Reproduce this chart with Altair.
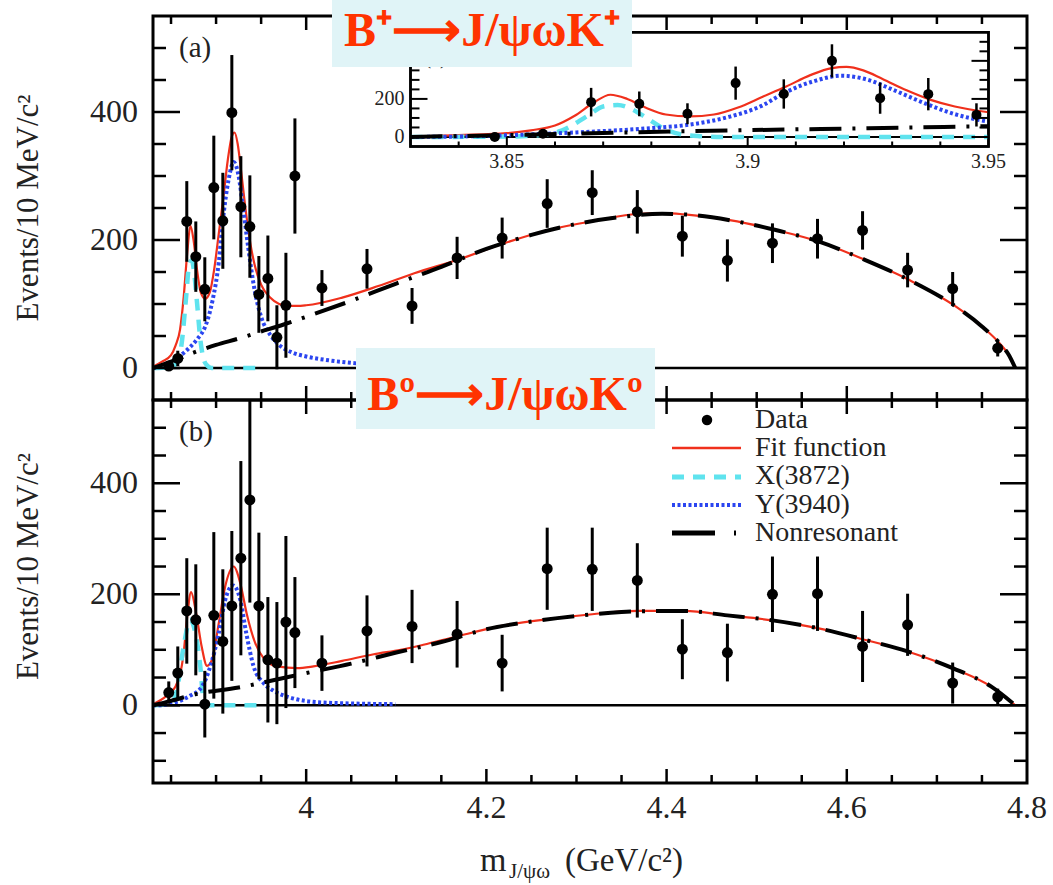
import altair as alt
import pandas as pd

# ------------------------------------------------------------------ data
BIN_M = [3.8475, 3.8575, 3.8675, 3.8775, 3.8875, 3.8975, 3.9075, 3.9175, 3.9275, 3.9375,
         3.9475, 3.9575, 3.9675, 3.9775, 3.9875,
         4.0175, 4.0675, 4.1175, 4.1675, 4.2175, 4.2675, 4.3175, 4.3675, 4.4175, 4.4675,
         4.5175, 4.5675, 4.6175, 4.6675, 4.7175, 4.7675]
A_COUNTS = [3, 15, 229, 174, 123, 282, 230, 399, 252, 221, 115, 140, 48, 98, 300,
            125, 155, 97, 172, 203, 257, 274, 244, 206, 168, 195, 202, 215, 153, 124, 31]
A_ERRORS = [6, 12, 63, 55, 50, 81, 75, 90, 79, 80, 60, 67, 50, 82, 90,
            28, 31, 28, 33, 32, 38, 35, 34, 32, 33, 31, 31, 30, 27, 26, 13]
B_COUNTS = [23, 58, 170, 154, 2, 162, 115, 179, 265, 370, 179, 82, 76, 150, 131,
            76, 134, 142, 128, 76, 246, 245, 225, 101, 95, 200, 201, 106, 145, 40, 15]
B_ERRORS = [20, 48, 95, 100, 60, 150, 130, 135, 175, 185, 132, 113, 110, 155, 100,
            50, 64, 66, 60, 51, 74, 75, 67, 54, 52, 68, 67, 64, 56, 37, 15]
INSET_M = [3.8475, 3.8575, 3.8675, 3.8775, 3.8875, 3.8975, 3.9075, 3.9175, 3.9275, 3.9375, 3.9475]
INSET_COUNTS = [0, 17, 183, 174, 122, 283, 226, 400, 204, 225, 116]
INSET_ERRORS = [8, 12, 75, 65, 55, 87, 77, 87, 82, 85, 61]

# fit curves
FIT_A_M = [3.83, 3.84, 3.85, 3.855, 3.86, 3.864, 3.868, 3.8715, 3.875, 3.879, 3.883, 3.888,
           3.893, 3.898, 3.903, 3.908, 3.913, 3.9175, 3.9205, 3.924, 3.928, 3.933, 3.938,
           3.943, 3.95, 3.96, 3.97, 3.98, 3.99, 4.0, 4.04, 4.08, 4.12, 4.17, 4.22, 4.27,
           4.32, 4.37, 4.395, 4.42, 4.47, 4.52, 4.57, 4.62, 4.67, 4.72, 4.75, 4.77, 4.78, 4.787]
FIT_A_V = [2, 10, 20, 35, 60, 110, 180, 222, 200, 152, 118, 108, 118, 155, 210, 265, 325, 362,
           368, 350, 305, 245, 195, 160, 130, 110, 100, 97, 97, 98, 110, 128, 148, 170, 195,
           216, 230, 241, 242, 240, 231, 216, 197, 169, 137, 97, 65, 38, 20, 0]
X_A_M = [3.83, 3.85, 3.856, 3.8615, 3.8667, 3.87, 3.873, 3.876, 3.879, 3.8825, 3.886, 3.89, 3.895, 3.95]
X_A_V = [0, 2, 8, 35, 110, 160, 168, 145, 100, 45, 15, 4, 0, 0]
Y_A_M = [3.83, 3.845, 3.856, 3.866, 3.879, 3.888, 3.896, 3.903, 3.9075, 3.914, 3.9195, 3.925,
         3.93, 3.936, 3.943, 3.95, 3.96, 3.97, 3.985, 4.0, 4.025, 4.05, 4.075, 4.1]
Y_A_V = [0, 5, 15, 26, 45, 65, 105, 165, 230, 295, 322, 300, 250, 185, 120, 80, 52, 36, 24,
         18, 12, 8, 5, 3]
NR_A_M = [3.83, 3.85, 3.875, 3.9, 3.925, 3.95, 3.975, 4.0, 4.05, 4.1, 4.15, 4.2, 4.25, 4.3,
          4.35, 4.395, 4.42, 4.47, 4.52, 4.57, 4.62, 4.67, 4.72, 4.75, 4.77, 4.78, 4.787]
NR_A_V = [0, 10, 24, 36, 46, 57, 68, 80, 105, 132, 158, 186, 208, 225, 236, 241, 240, 231,
          216, 197, 169, 137, 97, 65, 38, 20, 0]

# fit curves
FIT_B_M = [3.83, 3.845, 3.855, 3.864, 3.868, 3.8722, 3.878, 3.884, 3.89, 3.8955, 3.903, 3.91,
           3.9195, 3.927, 3.934, 3.9435, 3.9527, 3.9676, 3.99, 4.008, 4.04, 4.075, 4.105, 4.13,
           4.167, 4.217, 4.2675, 4.3175, 4.3675, 4.42, 4.4675, 4.5175, 4.5675, 4.6175, 4.6675,
           4.7175, 4.76, 4.787]
FIT_B_V = [2, 17, 34, 94, 160, 204, 165, 106, 71, 82, 148, 213, 250, 219, 165, 112, 85, 70,
           67, 70, 80, 92, 100, 109, 124, 143, 155, 164, 170, 170, 162, 153, 139, 119, 97, 67,
           34, 0]
X_B_M = [3.83, 3.85, 3.8566, 3.864, 3.8714, 3.877, 3.8825, 3.886, 3.89, 3.95]
X_B_V = [0, 3, 28, 106, 154, 130, 70, 11, 0, 0]
Y_B_M = [3.83, 3.835, 3.871, 3.8844, 3.8936, 3.903, 3.91, 3.9188, 3.927, 3.9335, 3.9417,
         3.9527, 3.964, 3.982, 4.019, 4.099]
Y_B_V = [0, 0, 17, 34, 70, 130, 189, 216, 189, 130, 70, 40, 26, 14, 5, 2]
NR_B_M = [3.83, 3.85, 3.877, 3.925, 3.966, 4.0, 4.05, 4.1, 4.15, 4.2, 4.25, 4.3, 4.35, 4.4,
          4.42, 4.4675, 4.5175, 4.5675, 4.6175, 4.6675, 4.7175, 4.76, 4.787]
NR_B_V = [0, 8, 20, 32, 46, 58, 75, 95, 114, 137, 151, 161, 168, 170, 170, 162, 153, 139,
          119, 97, 67, 34, 0]

# ticks / labels
X_MAJOR = [4.0, 4.2, 4.4, 4.6]
X_MINOR = [3.85, 3.9, 3.95, 4.05, 4.1, 4.15, 4.25, 4.3, 4.35, 4.45, 4.5, 4.55, 4.65, 4.7, 4.75]
X_LABEL_V = [4.0, 4.2, 4.4, 4.6, 4.8]
X_LABELS = ["4", "4.2", "4.4", "4.6", "4.8"]
Y_MAJOR = [0, 200, 400]
Y_LABELS = ["0", "200", "400"]
YA_MINOR = [50, 100, 150, 250, 300, 350, 450, 500]
YB_MINOR = [-100, -50, 50, 100, 150, 250, 300, 350, 450, 500]
XI_MAJOR = [3.85, 3.9]
XI_MINOR = [3.84, 3.86, 3.87, 3.88, 3.89, 3.91, 3.92, 3.93, 3.94]
XI_LABEL_V = [3.85, 3.9, 3.95]
XI_LABELS = ["3.85", "3.9", "3.95"]

# ------------------------------------------------------------------ style
FONT = "Liberation Serif"
TXT = "#222222"
RED = "#f0301c"
CYAN = "#5fe3ee"
BLUE = "#2b45f0"
TITLE_RED = "#ff3300"
BOX = "#e0f4f7"
W, H = 874, 767

XA = alt.Scale(domain=[3.83, 4.8], range=[0, W], nice=False, zero=False)
YA = alt.Scale(domain=[-50, 550], range=[384, 0], nice=False, zero=False, clamp=True)
YB = alt.Scale(domain=[-140, 550], range=[H, 384], nice=False, zero=False, clamp=True)
XI = alt.Scale(domain=[3.83, 3.95], range=[257.5, 835.5], nice=False, zero=False)
YI = alt.Scale(domain=[-50, 550], range=[130.5, 16.3], nice=False, zero=False, clamp=True)


def xf(f, s):
    return alt.X(f, type="quantitative", scale=s, axis=None)


def yf(f, s):
    return alt.Y(f, type="quantitative", scale=s, axis=None)


def xd(v, s):
    return alt.XDatum(v, type="quantitative", scale=s, axis=None)


def yd(v, s):
    return alt.YDatum(v, type="quantitative", scale=s, axis=None)


def curve(m, v, sx, sy, color, width, dash=None, maxm=None):
    df = pd.DataFrame({"m": m, "v": v})
    if maxm is not None:
        df = df[df.m <= maxm + 1e-9]
    kw = dict(color=color, strokeWidth=width, interpolate="monotone")
    if dash:
        kw["strokeDash"] = dash
    return alt.Chart(df).mark_line(**kw).encode(x=xf("m", sx), y=yf("v", sy))


def data_marks(m, c, e, sx, sy, size, bw):
    df = pd.DataFrame({"m": m, "c": c, "e": e})
    df["lo"] = df.c - df.e
    df["hi"] = df.c + df.e
    bars = alt.Chart(df).mark_rule(color="black", strokeWidth=bw).encode(
        x=xf("m", sx), y=yf("lo", sy), y2="hi")
    pts = alt.Chart(df).mark_circle(color="black", opacity=1, size=size).encode(
        x=xf("m", sx), y=yf("c", sy))
    return [bars, pts]


def yticks(vals, sx, sy, xl, xr, length, w=2.5):
    df = pd.DataFrame({"t": vals})
    left = alt.Chart(df).mark_rule(color="black", strokeWidth=w, x2Offset=length).encode(
        x=xd(xl, sx), x2=alt.X2Datum(xl), y=yf("t", sy))
    right = alt.Chart(df).mark_rule(color="black", strokeWidth=w, x2Offset=-length).encode(
        x=xd(xr, sx), x2=alt.X2Datum(xr), y=yf("t", sy))
    return [left, right]


def xticks(vals, sx, sy, yv, length, w=2.5):
    df = pd.DataFrame({"t": vals})
    return alt.Chart(df).mark_rule(color="black", strokeWidth=w, y2Offset=length).encode(
        x=xf("t", sx), y=yd(yv, sy), y2=alt.Y2Datum(yv))


def frame(sx, sy, x0, x1, y0, y1, w=3, fill=None):
    df = pd.DataFrame({"a": [0]})
    kw = dict(stroke="black", strokeWidth=w)
    if fill:
        kw["fill"] = fill
    else:
        kw["fillOpacity"] = 0
    return alt.Chart(df).mark_rect(**kw).encode(
        x=xd(x0, sx), x2=alt.X2Datum(x1), y=yd(y0, sy), y2=alt.Y2Datum(y1))


def hline(sx, sy, x0, x1, yv, w=2.5):
    df = pd.DataFrame({"a": [0]})
    return alt.Chart(df).mark_rule(color="black", strokeWidth=w).encode(
        x=xd(x0, sx), x2=alt.X2Datum(x1), y=yd(yv, sy))


def ylabels(vals, labels, sx, sy, xat, dx, size):
    df = pd.DataFrame({"t": vals, "lab": labels})
    return alt.Chart(df).mark_text(align="right", baseline="middle", dx=dx, font=FONT,
                                   fontSize=size, color=TXT).encode(
        x=xd(xat, sx), y=yf("t", sy), text="lab:N")


def xlabels(vals, labels, sx, sy, yat, dy, size):
    df = pd.DataFrame({"t": vals, "lab": labels})
    return alt.Chart(df).mark_text(align="center", baseline="middle", dy=dy, font=FONT,
                                   fontSize=size, color=TXT).encode(
        x=xf("t", sx), y=yd(yat, sy), text="lab:N")


def ptext(txt, sx, sy, xv, yv, dx, dy, size):
    df = pd.DataFrame({"a": [0]})
    return alt.Chart(df).mark_text(text=txt, align="left", baseline="middle", dx=dx, dy=dy,
                                   font=FONT, fontSize=size, color=TXT).encode(
        x=xd(xv, sx), y=yd(yv, sy))


def ytitle(sy, yv):
    df = pd.DataFrame({"a": [0]})
    return alt.Chart(df).mark_text(text="Events/10 MeV/c²", angle=270, align="center",
                                   baseline="middle", font=FONT, fontSize=31, color=TXT).encode(
        x=alt.value(-124), y=yd(yv, sy))


NR_DASH = [32, 11, 3, 11]
X_DASH = [12, 9]
Y_DASH = [3, 2.5]

# ------------------------------------------------------------------ panel (a)
a_layers = [
    hline(XA, YA, 3.83, 4.8, 0),
    curve(FIT_A_M, FIT_A_V, XA, YA, RED, 2.2),
    curve(X_A_M, X_A_V, XA, YA, CYAN, 4.5, X_DASH),
    curve(Y_A_M, Y_A_V, XA, YA, BLUE, 4, Y_DASH),
    curve(NR_A_M, NR_A_V, XA, YA, "black", 4, NR_DASH),
    *data_marks(BIN_M, A_COUNTS, A_ERRORS, XA, YA, 120, 3),
    *yticks(Y_MAJOR, XA, YA, 3.83, 4.8, 27),
    *yticks(YA_MINOR, XA, YA, 3.83, 4.8, 13),
    xticks(X_MAJOR, XA, YA, 550, 14), xticks(X_MINOR, XA, YA, 550, 8),
    xticks(X_MAJOR, XA, YA, -50, -14), xticks(X_MINOR, XA, YA, -50, -8),
    frame(XA, YA, 3.83, 4.8, -50, 550),
    ylabels(Y_MAJOR, Y_LABELS, XA, YA, 3.83, -15, 32),
    ytitle(YA, 250),
    ptext("(a)", XA, YA, 3.83, 550, 26, 32, 29),
]
panel_a = alt.layer(*a_layers)

# ------------------------------------------------------------------ panel (b)
b_layers = [
    hline(XA, YB, 3.83, 4.8, 0),
    curve(FIT_B_M, FIT_B_V, XA, YB, RED, 2.2),
    curve(X_B_M, X_B_V, XA, YB, CYAN, 4.5, X_DASH),
    curve(Y_B_M, Y_B_V, XA, YB, BLUE, 4, Y_DASH),
    curve(NR_B_M, NR_B_V, XA, YB, "black", 4, NR_DASH),
    *data_marks(BIN_M, B_COUNTS, B_ERRORS, XA, YB, 120, 3),
    *yticks(Y_MAJOR, XA, YB, 3.83, 4.8, 27),
    *yticks(YB_MINOR, XA, YB, 3.83, 4.8, 13),
    xticks(X_MAJOR, XA, YB, 550, 14), xticks(X_MINOR, XA, YB, 550, 8),
    xticks(X_MAJOR, XA, YB, -140, -14), xticks(X_MINOR, XA, YB, -140, -8),
    frame(XA, YB, 3.83, 4.8, -140, 550),
    ylabels(Y_MAJOR, Y_LABELS, XA, YB, 3.83, -15, 32),
    xlabels(X_LABEL_V, X_LABELS, XA, YB, -140, 25, 32),
    ytitle(YB, 250),
    ptext("(b)", XA, YB, 3.83, 550, 26, 32, 29),
]
panel_b = alt.layer(*b_layers)

# ------------------------------------------------------------------ inset
i_layers = [
    frame(XI, YI, 3.83, 3.95, -50, 550, w=2.5, fill="white"),
    hline(XI, YI, 3.83, 3.95, 0, w=2),
    curve(FIT_A_M, FIT_A_V, XI, YI, RED, 2.2, maxm=3.95),
    curve(X_A_M, X_A_V, XI, YI, CYAN, 4.5, X_DASH, maxm=3.95),
    curve(Y_A_M, Y_A_V, XI, YI, BLUE, 4, Y_DASH, maxm=3.95),
    curve(NR_A_M, NR_A_V, XI, YI, "black", 4, NR_DASH, maxm=3.95),
    *data_marks(INSET_M, INSET_COUNTS, INSET_ERRORS, XI, YI, 100, 2.5),
    *yticks(Y_MAJOR, XI, YI, 3.83, 3.95, 17, w=2),
    *yticks(YA_MINOR, XI, YI, 3.83, 3.95, 9, w=2),
    xticks(XI_MAJOR, XI, YI, -50, -10, w=2), xticks(XI_MINOR, XI, YI, -50, -5, w=2),
    frame(XI, YI, 3.83, 3.95, -50, 550, w=2.5),
    ylabels(Y_MAJOR, Y_LABELS, XI, YI, 3.83, -6, 20),
    xlabels(XI_LABEL_V, XI_LABELS, XI, YI, -50, 15, 20),
    ptext("(c)", XI, YI, 3.83, 550, 14, 26, 20),
]
inset = alt.layer(*i_layers)

# ------------------------------------------------------------------ annotations
one = pd.DataFrame({"a": [0]})


def vtext(txt, x, y, size, align="left", color=TXT, weight="normal", baseline="alphabetic",
          font=FONT):
    return alt.Chart(one).mark_text(text=txt, align=align, baseline=baseline, font=font,
                                    fontSize=size, color=color, fontWeight=weight).encode(
        x=alt.value(x), y=alt.value(y))


def vbox(x0, x1, y0, y1):
    return alt.Chart(one).mark_rect(fill=BOX).encode(
        x=alt.value(x0), x2=alt.value(x1), y=alt.value(y0), y2=alt.value(y1))


def vrule(x0, x1, y, color, width, dash=None):
    kw = dict(color=color, strokeWidth=width)
    if dash:
        kw["strokeDash"] = dash
    return alt.Chart(one).mark_rule(**kw).encode(
        x=alt.value(x0), x2=alt.value(x1), y=alt.value(y))


LEG_X = 602
ann_layers = [
    vbox(179, 479, -16, 51),
    vtext("B⁺⟶J/ψωK⁺", 329, 16, 48, align="center", color=TITLE_RED, weight="bold",
          baseline="middle"),
    vbox(203, 502, 332, 413),
    vtext("Bº⟶J/ψωKº", 352, 380, 48, align="center", color=TITLE_RED, weight="bold",
          baseline="middle"),
    # legend
    alt.Chart(one).mark_circle(color="black", opacity=1, size=110).encode(
        x=alt.value(554), y=alt.value(404)),
    vrule(519, 588, 432, RED, 2.5),
    vrule(519, 588, 461, CYAN, 5, X_DASH),
    vrule(519, 588, 489, BLUE, 4, Y_DASH),
    vrule(519, 562, 517, "black", 5),
    vrule(581, 583, 517, "black", 5),
    vtext("Data", LEG_X, 404, 28, baseline="middle"),
    vtext("Fit function", LEG_X, 432, 28, baseline="middle"),
    vtext("X(3872)", LEG_X, 460, 28, baseline="middle"),
    vtext("Y(3940)", LEG_X, 489, 28, baseline="middle"),
    vtext("Nonresonant", LEG_X, 517, 28, baseline="middle"),
    # x-axis title
    vtext("m", 327, 855, 34),
    vtext("J/ψω", 356, 862, 21),
    vtext("(GeV/c²)", 412, 855, 33),
]
annot = alt.layer(*ann_layers)

chart = alt.layer(panel_a, panel_b, inset, annot).resolve_scale(
    x="independent", y="independent"
).properties(
    width=W, height=H,
    autosize=alt.AutoSizeParams(type="none"),
    padding={"left": 153, "top": 16, "right": 26, "bottom": 102},
    background="white",
).configure_view(stroke=None)

chart.save("out.html", embed_options={"renderer": "svg", "actions": False})
